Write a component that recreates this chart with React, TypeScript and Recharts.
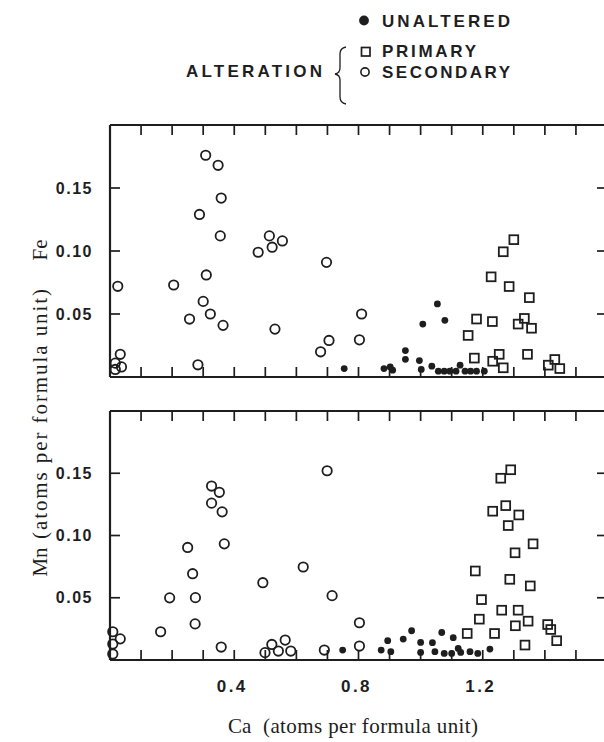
import React from 'react';
import { ScatterChart, Scatter, XAxis, YAxis } from 'recharts';

// ---------- data (Ca, element) in atoms per formula unit ----------
const xTicks = [0.1, 0.2, 0.3, 0.4, 0.5, 0.6, 0.7, 0.8, 0.9, 1.0, 1.1, 1.2, 1.3, 1.4, 1.5];
const xLabelTicks = [0.4, 0.8, 1.2];
const yTicks = [0.05, 0.1, 0.15];

const secondaryFe: [number, number][] = [
  [0.308, 0.176], [0.348, 0.168], [0.358, 0.142], [0.288, 0.129], [0.355, 0.112],
  [0.513, 0.112], [0.522, 0.103], [0.477, 0.099], [0.555, 0.108], [0.697, 0.091],
  [0.31, 0.081], [0.205, 0.073], [0.025, 0.072], [0.3, 0.06], [0.323, 0.05],
  [0.256, 0.046], [0.364, 0.041], [0.531, 0.038], [0.705, 0.029], [0.678, 0.02],
  [0.033, 0.018], [0.017, 0.011], [0.037, 0.008], [0.017, 0.006], [0.283, 0.0097],
  [0.81, 0.05], [0.803, 0.0295],
];
const unalteredFe: [number, number][] = [
  [0.754, 0.0067], [1.054, 0.058], [1.007, 0.042], [1.078, 0.045], [0.951, 0.021],
  [0.951, 0.014], [0.996, 0.013], [1.002, 0.006], [1.036, 0.0086], [0.882, 0.0067],
  [0.902, 0.008], [0.91, 0.0054], [1.057, 0.0046], [1.076, 0.0046], [1.094, 0.0046],
  [1.114, 0.0046], [1.127, 0.0094], [1.143, 0.0046], [1.161, 0.0046], [1.18, 0.0046],
  [1.205, 0.0046],
];
const primaryFe: [number, number][] = [
  [1.3, 0.109], [1.266, 0.0994], [1.227, 0.0795], [1.285, 0.0718], [1.35, 0.063],
  [1.18, 0.046], [1.231, 0.044], [1.334, 0.0465], [1.314, 0.042], [1.357, 0.0387],
  [1.153, 0.033], [1.173, 0.015], [1.253, 0.018], [1.232, 0.0125], [1.266, 0.0073],
  [1.344, 0.018], [1.411, 0.0094], [1.432, 0.0139], [1.448, 0.0067],
];

const secondaryMn: [number, number][] = [
  [0.699, 0.152], [0.327, 0.1397], [0.352, 0.1347], [0.327, 0.126], [0.361, 0.119],
  [0.368, 0.0933], [0.25, 0.0904], [0.266, 0.0693], [0.622, 0.0747], [0.492, 0.0621],
  [0.192, 0.0499], [0.275, 0.0501], [0.715, 0.0517], [0.274, 0.029], [0.163, 0.0227],
  [0.009, 0.0227], [0.033, 0.017], [0.009, 0.0128], [0.009, 0.0048], [0.358, 0.0104],
  [0.521, 0.0125], [0.564, 0.016], [0.499, 0.0059], [0.542, 0.0072], [0.582, 0.0072],
  [0.69, 0.008], [0.803, 0.0299], [0.803, 0.0112],
];
const unalteredMn: [number, number][] = [
  [0.749, 0.008], [0.873, 0.008], [0.904, 0.0067], [0.894, 0.0155], [0.944, 0.0168],
  [0.971, 0.0235], [1.0, 0.0141], [1.0, 0.0061], [1.038, 0.0139], [1.046, 0.0067],
  [1.068, 0.0221], [1.105, 0.0179], [1.076, 0.0053], [1.1, 0.0053], [1.121, 0.0093],
  [1.129, 0.0061], [1.159, 0.0067], [1.184, 0.0053], [1.223, 0.0088],
];
const primaryMn: [number, number][] = [
  [1.29, 0.1528], [1.258, 0.146], [1.274, 0.124], [1.232, 0.1195], [1.316, 0.1165],
  [1.282, 0.108], [1.362, 0.0933], [1.304, 0.0861], [1.176, 0.0715], [1.287, 0.0648],
  [1.353, 0.0595], [1.196, 0.0485], [1.261, 0.04], [1.314, 0.04], [1.189, 0.0328],
  [1.346, 0.0312], [1.305, 0.0275], [1.409, 0.0285], [1.419, 0.0245], [1.15, 0.0213],
  [1.238, 0.0213], [1.438, 0.0155], [1.336, 0.012],
];

// ---------- styling ----------
const INK = '#1e1e1e';
const sans = '"Liberation Sans", Arial, Helvetica, sans-serif';
const serif = '"Liberation Serif", "Times New Roman", Times, serif';

const toPts = (arr: [number, number][]) => arr.map(([x, y]) => ({ x, y }));

const OpenCircle = (p: any) => (
  <circle cx={p.cx} cy={p.cy} r={4.7} fill="none" stroke={INK} strokeWidth={1.8} />
);
const OpenSquare = (p: any) => (
  <rect x={p.cx - 4.4} y={p.cy - 4.4} width={8.8} height={8.8} fill="none" stroke={INK} strokeWidth={1.8} />
);
const Dot = (p: any) => <circle cx={p.cx} cy={p.cy} r={3.4} fill={INK} />;
const Nothing = () => <g />;

const axisLine = { stroke: INK, strokeWidth: 2.2 };
const tickLine = { stroke: INK, strokeWidth: 1.7 };
const tickStyle = {
  fontSize: 16,
  fontFamily: sans,
  fontWeight: 'bold',
  fill: INK,
  letterSpacing: 1.5,
  style: { letterSpacing: '1.5px' },
};
const xTickStyle = {
  ...tickStyle,
  fontSize: 17,
  letterSpacing: 2.5,
  style: { letterSpacing: '2.5px' },
};

const blank = () => '';

function Panel({
  secondary,
  unaltered,
  primary,
  marginTop,
  height,
  bottomHeight,
  showX,
}: {
  secondary: [number, number][];
  unaltered: [number, number][];
  primary: [number, number][];
  marginTop: number;
  height: number;
  bottomHeight: number;
  showX: boolean;
}) {
  return (
    <ScatterChart width={617} height={height} margin={{ top: marginTop, right: 0, bottom: 0, left: 0 }}>
      <XAxis
        xAxisId="b"
        dataKey="x"
        type="number"
        domain={[0, 1.6]}
        ticks={xTicks}
        interval={0}
        height={bottomHeight}
        tickSize={-10}
        tickMargin={30}
        axisLine={axisLine}
        tickLine={tickLine}
        tick={{ ...xTickStyle, dx: -2 }}
        tickFormatter={(v: number) => (showX && xLabelTicks.some((t) => Math.abs(t - v) < 1e-6) ? v.toFixed(1) : '')}
      />
      <XAxis
        xAxisId="t"
        orientation="top"
        dataKey="x"
        type="number"
        domain={[0, 1.6]}
        ticks={xTicks}
        interval={0}
        height={5}
        tickSize={-10}
        axisLine={axisLine}
        tickLine={tickLine}
        tickFormatter={blank}
      />
      <YAxis
        yAxisId="l"
        dataKey="y"
        type="number"
        domain={[0, 0.2]}
        ticks={yTicks}
        interval={0}
        width={110}
        tickSize={-10}
        tickMargin={27}
        axisLine={axisLine}
        tickLine={tickLine}
        tick={tickStyle}
        tickFormatter={(v: number) => v.toFixed(2)}
      />
      <YAxis
        yAxisId="r"
        orientation="right"
        dataKey="y"
        type="number"
        domain={[0, 0.2]}
        ticks={yTicks}
        interval={0}
        width={10}
        tickSize={-10}
        axisLine={axisLine}
        tickLine={tickLine}
        tickFormatter={blank}
      />
      <Scatter data={toPts(secondary)} xAxisId="t" yAxisId="r" shape={Nothing} isAnimationActive={false} />
      <Scatter data={toPts(secondary)} xAxisId="b" yAxisId="l" shape={OpenCircle} isAnimationActive={false} />
      <Scatter data={toPts(primary)} xAxisId="b" yAxisId="l" shape={OpenSquare} isAnimationActive={false} />
      <Scatter data={toPts(unaltered)} xAxisId="b" yAxisId="l" shape={Dot} isAnimationActive={false} />
    </ScatterChart>
  );
}

const legendFont = { fontFamily: sans, fontWeight: 'bold' as const, fontSize: 17, fill: INK };

export default function App() {
  return (
    <div
      style={{
        position: 'absolute',
        left: 0,
        top: 0,
        width: 604,
        height: 742,
        overflow: 'hidden',
        background: '#fff',
      }}
    >
      <div style={{ position: 'absolute', left: 0, top: 0 }}>
        <Panel
          secondary={secondaryFe}
          unaltered={unalteredFe}
          primary={primaryFe}
          marginTop={120}
          height={387}
          bottomHeight={10}
          showX={false}
        />
      </div>
      <div style={{ position: 'absolute', left: 0, top: 380 }}>
        <Panel
          secondary={secondaryMn}
          unaltered={unalteredMn}
          primary={primaryMn}
          marginTop={26}
          height={320}
          bottomHeight={40}
          showX={true}
        />
      </div>
      <svg
        width={604}
        height={742}
        style={{ position: 'absolute', left: 0, top: 0, pointerEvents: 'none' }}
      >
        {/* legend */}
        <circle cx={364} cy={20.5} r={4.9} fill={INK} />
        <text x={382} y={27} {...legendFont} textLength={128}>
          UNALTERED
        </text>
        <rect x={361.5} y={47.5} width={8.5} height={8.5} fill="none" stroke={INK} strokeWidth={1.7} />
        <text x={382} y={57} {...legendFont} textLength={94}>
          PRIMARY
        </text>
        <circle cx={365} cy={72} r={4.1} fill="none" stroke={INK} strokeWidth={1.6} />
        <text x={382} y={78} {...legendFont} textLength={128}>
          SECONDARY
        </text>
        <text x={186} y={77} {...legendFont} textLength={136}>
          ALTERATION
        </text>
        <path
          d="M 346 47 Q 340 48 340 54 L 340 68 Q 340 73 335 74 Q 340 75 340 80 L 340 97 Q 340 103 346 104"
          fill="none"
          stroke={INK}
          strokeWidth={1.3}
        />
        {/* y-axis title */}
        <text
          x={47}
          y={250}
          transform="rotate(-90 47 250)"
          textAnchor="middle"
          fontFamily={serif}
          fontSize={21}
          fill={INK}
        >
          Fe
        </text>
        <text
          x={47}
          y={414}
          transform="rotate(-90 47 414)"
          textAnchor="middle"
          fontFamily={serif}
          fontSize={21}
          fill={INK}
          textLength={250}
        >
          (atoms per formula unit)
        </text>
        <text
          x={47}
          y={562}
          transform="rotate(-90 47 562)"
          textAnchor="middle"
          fontFamily={serif}
          fontSize={21}
          fill={INK}
        >
          Mn
        </text>
        {/* x-axis title */}
        <text x={228} y={733} fontFamily={serif} fontSize={21} fill={INK}>
          Ca
        </text>
        <text x={263} y={733} fontFamily={serif} fontSize={21} fill={INK} textLength={215}>
          (atoms per formula unit)
        </text>
      </svg>
    </div>
  );
}
